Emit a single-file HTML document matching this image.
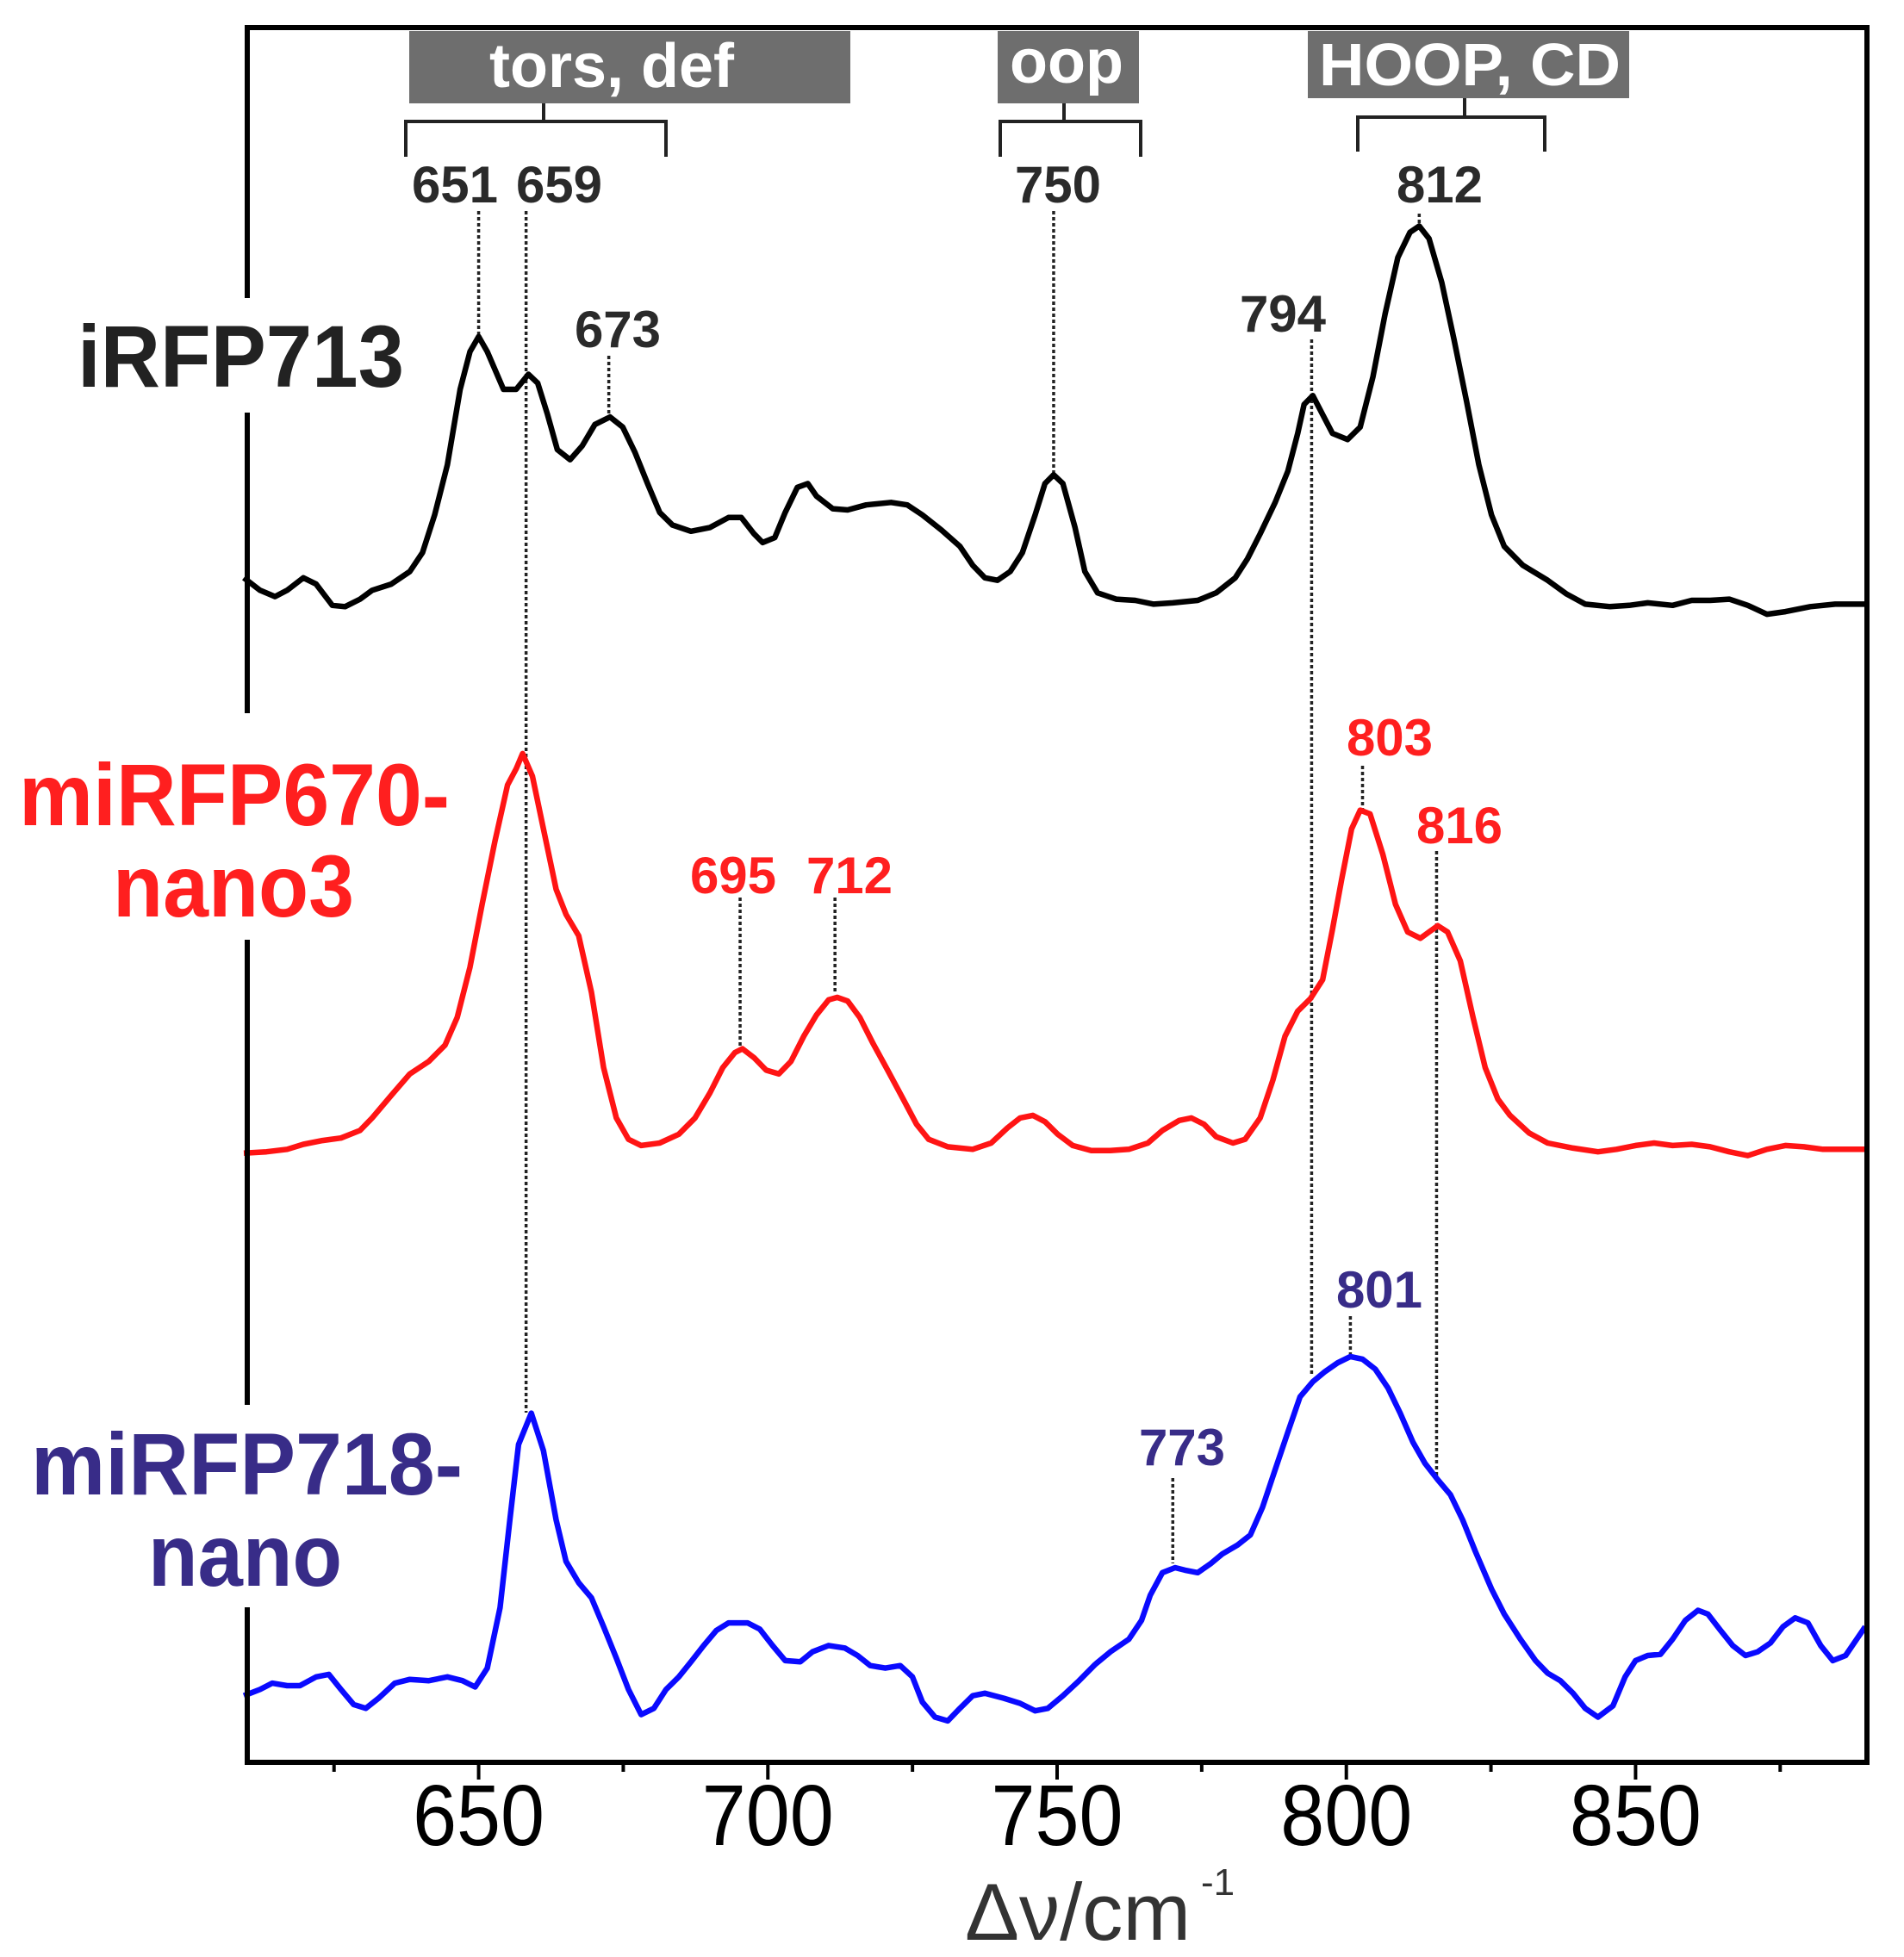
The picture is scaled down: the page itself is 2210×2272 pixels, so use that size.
<!DOCTYPE html>
<html><head><meta charset="utf-8"><style>
html,body{margin:0;padding:0;background:#fff;}
svg{display:block;}
text{font-family:"Liberation Sans",sans-serif;}
</style></head><body>
<svg id="chart" width="2210" height="2272" viewBox="0 0 2210 2272" xmlns="http://www.w3.org/2000/svg">
<g id="boxes">
  <rect x="475" y="36" width="512" height="84" fill="#6e6e6e"/>
  <text x="710" y="101" fill="#fff" font-size="72" font-weight="bold" text-anchor="middle">tors, def</text>
  <rect x="1158" y="36" width="164" height="84" fill="#6e6e6e"/>
  <text x="1238" y="96" fill="#fff" font-size="72" font-weight="bold" text-anchor="middle">oop</text>
  <rect x="1518" y="36" width="373" height="78" fill="#6e6e6e"/>
  <text x="1706" y="99" fill="#fff" font-size="70" font-weight="bold" text-anchor="middle" textLength="350" lengthAdjust="spacingAndGlyphs">HOOP, CD</text>
  <path d="M631 120V141M471 182V141H773V182" fill="none" stroke="#222" stroke-width="4"/>
  <path d="M1235 120V141M1161 182V141H1324V182" fill="none" stroke="#222" stroke-width="4"/>
  <path d="M1700 114V136M1576 176V136H1793V176" fill="none" stroke="#222" stroke-width="4"/>
</g>
<g id="dots"></g>
<g id="series"></g>
<g id="axes"></g>
<g id="labels">
  <text x="90" y="449" font-size="102" font-weight="bold" fill="#222" textLength="379" lengthAdjust="spacingAndGlyphs">iRFP713</text>
  <text x="22" y="958" font-size="102" font-weight="bold" fill="#ff1f1f" textLength="500" lengthAdjust="spacingAndGlyphs">miRFP670-</text>
  <text x="131" y="1064" font-size="102" font-weight="bold" fill="#ff1f1f" textLength="280" lengthAdjust="spacingAndGlyphs">nano3</text>
  <text x="36" y="1735" font-size="102" font-weight="bold" fill="#382c88" textLength="501" lengthAdjust="spacingAndGlyphs">miRFP718-</text>
  <text x="172" y="1841" font-size="102" font-weight="bold" fill="#382c88" textLength="225" lengthAdjust="spacingAndGlyphs">nano</text>
  <text x="1120" y="2252" font-size="94" fill="#333" textLength="262" lengthAdjust="spacingAndGlyphs">Δν/cm</text>
  <text x="1394" y="2200" font-size="44" fill="#333">-1</text>
</g>
</svg>
<script>
const xTicks = [650, 700, 750, 800, 850];
const xMinorTicks = [625, 675, 725, 775, 825, 875];
const blackSeries = [[609.4,94.3],[612.2,93.3],[614.8,92.8],[616.9,93.3],[619.7,94.3],[621.9,93.8],[624.7,92.1],[626.9,92.0],[629.5,92.6],[631.6,93.3],[634.9,93.8],[638.1,94.8],[640.3,96.3],[642.4,99.3],[644.6,103.3],[646.8,109.3],[648.5,112.3],[650.0,113.5],[651.5,112.3],[654.3,109.3],[656.5,109.3],[658.6,110.5],[660.2,109.8],[661.9,107.3],[663.6,104.5],[665.8,103.7],[667.9,104.8],[670.1,106.5],[672.7,107.1],[674.9,106.3],[677.0,104.3],[679.2,101.8],[681.3,99.5],[683.5,98.5],[686.7,98.0],[690.0,98.3],[693.2,99.1],[695.4,99.1],[697.6,97.8],[699.1,97.1],[701.2,97.5],[703.0,99.5],[705.1,101.5],[706.9,101.8],[708.4,100.8],[711.2,99.8],[713.8,99.7],[717.0,100.1],[721.3,100.3],[724.1,100.1],[726.7,99.3],[730.0,98.1],[733.2,96.8],[735.4,95.3],[737.5,94.3],[739.7,94.1],[741.9,94.8],[744.0,96.3],[746.2,99.3],[747.9,101.8],[749.4,102.5],[751.0,101.8],[753.1,98.3],[754.8,94.8],[757.0,93.1],[760.2,92.6],[763.5,92.5],[766.7,92.2],[770.0,92.3],[774.3,92.5],[777.5,93.1],[780.8,94.3],[782.9,95.8],[785.1,97.8],[787.7,100.3],[789.9,102.8],[791.6,105.8],[792.7,108.1],[794.2,108.8],[795.9,107.3],[797.6,105.8],[800.2,105.3],[802.4,106.3],[804.6,110.3],[806.7,115.3],[808.9,119.8],[811.0,121.8],[812.6,122.3],[814.3,121.3],[816.5,117.8],[818.6,113.3],[820.8,108.3],[822.9,103.3],[825.1,99.3],[827.3,96.8],[830.5,95.3],[834.8,94.1],[838.1,93.0],[841.3,92.2],[845.6,92.0],[848.9,92.1],[852.1,92.3],[856.4,92.1],[859.7,92.5],[862.9,92.5],[866.2,92.6],[869.4,92.1],[872.7,91.4],[875.9,91.6],[880.2,92.0],[884.5,92.2],[889.7,92.2]];
const redSeries = [[609.4,48.5],[613.3,48.6],[616.9,48.8],[619.7,49.2],[623.0,49.5],[626.2,49.7],[629.5,50.3],[631.6,51.3],[634.9,53.1],[638.1,54.8],[641.4,55.8],[644.2,57.1],[646.3,59.3],[648.5,63.3],[650.6,68.3],[652.8,73.3],[655.0,77.8],[656.5,79.1],[657.6,80.3],[659.3,78.5],[661.2,74.3],[663.4,69.5],[665.1,67.5],[667.3,65.8],[669.5,61.3],[671.6,55.3],[673.8,51.3],[675.9,49.6],[678.1,49.1],[681.3,49.3],[684.6,50.0],[687.4,51.3],[690.0,53.3],[692.2,55.3],[694.3,56.5],[695.6,56.8],[697.6,56.1],[699.7,55.1],[701.9,54.8],[704.0,55.8],[706.2,57.8],[708.4,59.5],[710.5,60.7],[712.0,60.9],[713.8,60.6],[715.9,59.3],[718.1,57.3],[720.7,55.1],[723.5,52.7],[725.7,50.8],[727.8,49.6],[731.1,49.0],[735.4,48.8],[738.6,49.3],[741.4,50.5],[743.6,51.3],[745.8,51.5],[747.9,51.0],[750.1,50.0],[752.7,49.1],[755.9,48.7],[759.2,48.7],[762.4,48.8],[765.7,49.3],[768.2,50.3],[771.1,51.1],[773.2,51.3],[775.4,50.8],[777.5,49.8],[780.4,49.3],[782.5,49.6],[785.1,51.3],[787.3,54.3],[789.4,57.8],[791.6,59.8],[793.8,60.8],[795.9,62.3],[797.6,66.3],[799.2,70.3],[800.9,74.3],[802.4,75.8],[804.1,75.5],[806.3,72.3],[808.5,68.3],[810.6,66.1],[812.8,65.6],[814.3,66.1],[815.8,66.6],[817.5,66.1],[819.7,63.8],[821.9,59.3],[824.0,55.3],[826.2,52.8],[828.3,51.5],[831.6,50.1],[834.8,49.3],[839.2,48.9],[843.5,48.6],[846.7,48.8],[850.0,49.1],[853.2,49.3],[856.4,49.1],[859.7,49.2],[862.9,49.0],[866.2,48.6],[869.4,48.3],[872.7,48.8],[875.9,49.1],[879.1,49.0],[882.4,48.8],[889.7,48.8]];
const blueSeries = [[609.4,5.3],[612.2,5.8],[614.3,6.3],[616.9,6.1],[619.1,6.1],[621.9,6.8],[624.1,7.0],[626.2,5.8],[628.4,4.6],[630.5,4.3],[632.7,5.1],[635.5,6.3],[638.1,6.6],[641.4,6.5],[644.6,6.8],[647.2,6.5],[649.4,6.0],[651.5,7.5],[653.7,12.3],[655.4,19.3],[656.9,25.3],[659.1,27.8],[661.2,24.8],[663.4,19.3],[665.1,16.0],[667.3,14.3],[669.5,13.1],[671.6,10.8],[673.8,8.3],[675.9,5.8],[678.1,3.8],[680.3,4.3],[682.4,5.8],[684.6,6.8],[686.7,8.0],[688.9,9.3],[691.1,10.5],[693.2,11.1],[696.5,11.1],[698.6,10.6],[700.8,9.3],[703.0,8.1],[705.6,8.0],[707.7,8.8],[710.5,9.3],[713.3,9.1],[715.5,8.5],[717.7,7.7],[720.3,7.5],[722.9,7.7],[725.0,6.8],[726.7,4.8],[728.9,3.6],[731.1,3.3],[733.2,4.3],[735.4,5.3],[737.5,5.5],[740.8,5.1],[743.6,4.7],[746.2,4.1],[748.4,4.3],[751.0,5.3],[753.8,6.5],[756.6,7.8],[759.2,8.8],[762.4,9.8],[764.6,11.3],[766.1,13.3],[768.2,15.1],[770.4,15.5],[772.1,15.3],[774.3,15.1],[776.5,15.8],[778.6,16.6],[781.2,17.3],[783.4,18.1],[785.5,20.3],[787.7,23.3],[789.9,26.3],[792.0,29.1],[794.2,30.3],[796.3,31.1],[798.5,31.8],[800.7,32.3],[802.8,32.1],[805.0,31.3],[807.2,29.8],[809.3,27.8],[811.5,25.5],[813.6,23.8],[815.8,22.5],[818.0,21.3],[820.1,19.3],[822.3,16.8],[825.1,13.8],[827.3,11.8],[830.1,9.8],[832.7,8.1],[834.8,7.1],[837.0,6.5],[839.2,5.5],[841.3,4.3],[843.5,3.6],[846.1,4.5],[848.2,6.8],[850.0,8.1],[852.1,8.5],[854.3,8.6],[856.4,9.8],[858.6,11.3],[860.8,12.1],[862.5,11.8],[864.7,10.5],[866.8,9.3],[869.0,8.5],[871.1,8.8],[873.3,9.5],[875.5,10.8],[877.6,11.5],[879.8,11.1],[882.0,9.3],[884.1,8.1],[886.3,8.5],[889.7,10.8]];
const blackPeaks = ["651","659","750","812","673","794"];
const blackPeakPos = [650.0,658.2,749.4,812.6,672.5,794.0];
const redPeaks = ["803","816","695","712"];
const redPeakPos = [802.8,815.6,695.2,711.6];
const bluePeaks = ["801","773"];
const bluePeakPos = [800.7,770.0];

const NS = "http://www.w3.org/2000/svg";
const L = 287, R = 2167, T = 32, B = 2046;
const X0 = 610, X1 = 890, Y0 = 0, Y1 = 138.1;
function xs(v){ return L + (v - X0) / (X1 - X0) * (R - L); }
function ys(v){ return B - (v - Y0) / (Y1 - Y0) * (B - T); }
function mk(tag, attrs, parent){ const e = document.createElementNS(NS, tag); for (const k in attrs) e.setAttribute(k, attrs[k]); parent.appendChild(e); return e; }

const gS = document.getElementById('series');
function drawSeries(data, color, name){
  const d = data.map((p,i)=>(i?'L':'M') + xs(p[0]).toFixed(1) + ' ' + ys(p[1]).toFixed(1)).join(' ');
  const p = mk('path', {d:d, fill:'none', stroke:color, 'stroke-width':6.5, 'stroke-linejoin':'round'}, gS);
  
  
}
drawSeries(blackSeries, '#000', 'irfp713-spectrum');
drawSeries(redSeries, '#ff1414', 'mirfp670-nano3-spectrum');
drawSeries(blueSeries, '#0a0aff', 'mirfp718-nano-spectrum');

const gD = document.getElementById('dots');
const blackSpans = [[245,391],[245,1640],[245,551],[248,265],[413,481],[394,1597]];
const blackLbl = [[528,235],[649,235],[1228,235],[1671,235],[717,403],[1489,385]];
const redSpans = [[889,940],[988,1713],[1042,1215],[1042,1152]];
const redLbl = [[1613,877],[1694,979],[851,1037],[986,1037]];
const blueSpans = [[1528,1572],[1716,1815]];
const blueLbl = [[1601,1518],[1372,1701]];
function drawPeaks(labels, pos, spans, lbl, color, prefix){
  labels.forEach((t,i)=>{
    const x = xs(pos[i]);
    const ln = mk('line', {x1:x, x2:x, y1:spans[i][0], y2:spans[i][1], stroke:'#222', 'stroke-width':3.5, 'stroke-dasharray':'4 3'}, gD);
    
    
    const tx = mk('text', {x:lbl[i][0], y:lbl[i][1], 'font-size':60, 'font-weight':'bold', fill:color, 'text-anchor':'middle'}, gD);
    tx.textContent = t;
    
    
  });
}
drawPeaks(blackPeaks, blackPeakPos, blackSpans, blackLbl, '#2a2a2a', 'irfp713');
drawPeaks(redPeaks, redPeakPos, redSpans, redLbl, '#ff1f1f', 'mirfp670');
drawPeaks(bluePeaks, bluePeakPos, blueSpans, blueLbl, '#382c88', 'mirfp718');

const gA = document.getElementById('axes');
const frame = mk('path', {d:`M${L} 346V${T}H${R}V${B}H${L}V1866 M${L} 1631V1091 M${L} 828V479`, fill:'none', stroke:'#000', 'stroke-width':6}, gA);


xTicks.forEach(v=>{
  const x = xs(v);
  const t = mk('line', {x1:x, x2:x, y1:B, y2:B+20, stroke:'#000', 'stroke-width':4}, gA);
  
  
  const lb = mk('text', {x:x, y:2142, 'font-size':100, fill:'#000', 'text-anchor':'middle', textLength:153, lengthAdjust:'spacingAndGlyphs'}, gA);
  lb.textContent = v;
  
  
});
xMinorTicks.forEach(v=>{
  const x = xs(v);
  const t = mk('line', {x1:x, x2:x, y1:B, y2:B+11, stroke:'#000', 'stroke-width':4}, gA);
  
  
});
</script>
</body></html>
